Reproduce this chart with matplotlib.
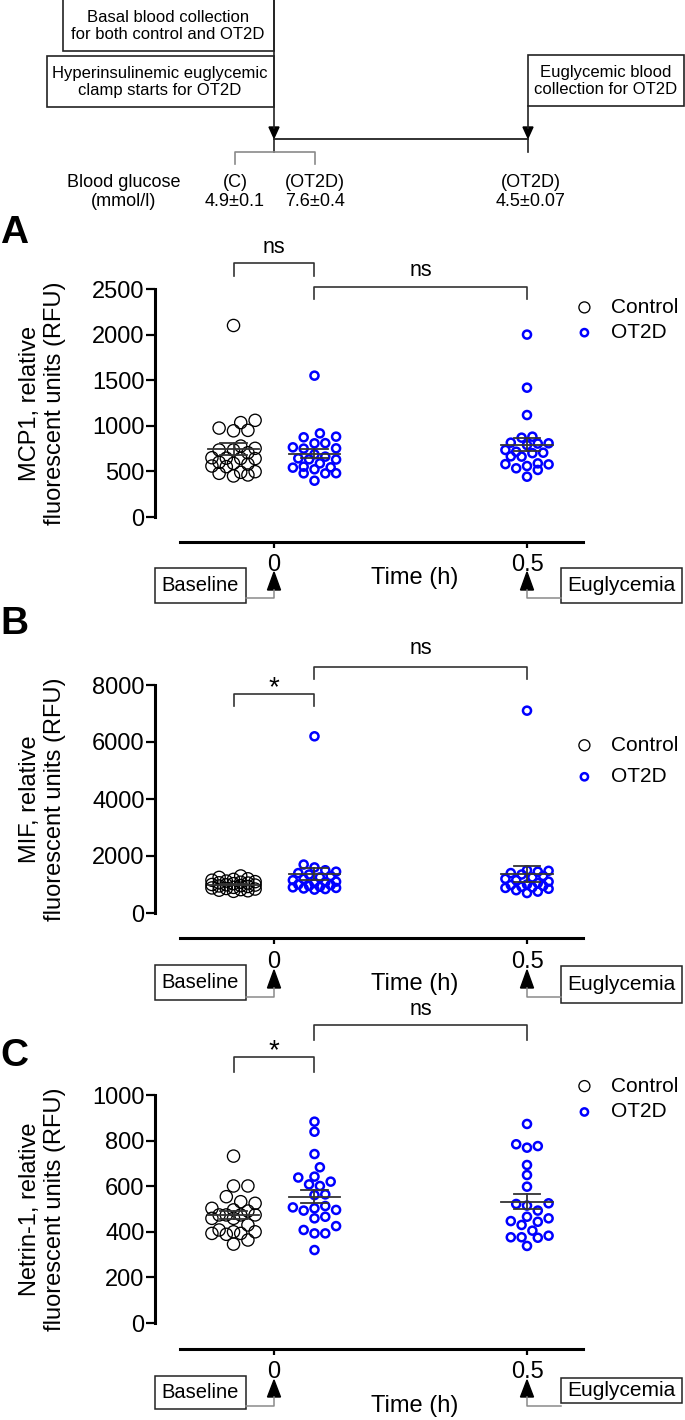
import numpy as np
import matplotlib.pyplot as plt
from matplotlib.patches import Rectangle, Polygon
from matplotlib.transforms import blended_transform_factory

plt.rcParams['font.family'] = ['Liberation Sans', 'DejaVu Sans']

W, H = 685, 1420

# group order: control at baseline, OT2D at baseline, OT2D at euglycemia
group_labels = ['Control', 'OT2D', 'OT2D']
group_times = [0.0, 0.0, 0.5]
time_ticks = [0, 0.5]
time_ticklabels = ['0', '0.5']

# MCP1 (RFU)
mcp1_ctrl = [2100, 1060, 1035, 975, 945, 950, 778, 753, 735, 705, 735, 643, 650, 640, 645,
             588, 559, 552, 580, 600, 479, 497, 450, 490, 461]
mcp1_ot2d_0 = [1550, 917, 881, 874, 808, 810, 753, 750, 764, 687, 632, 588, 630, 643, 662,
               523, 541, 552, 545, 479, 480, 478, 398]
mcp1_ot2d_05 = [2000, 1418, 1118, 870, 881, 815, 789, 808, 805, 735, 705, 700, 662, 665, 716,
                559, 588, 534, 516, 577, 580, 442]

# MIF (RFU)
mif_ctrl = [1300, 1250, 1200, 1180, 1150, 1120, 1100, 1080, 1060, 1050, 1030, 1000, 990,
            980, 960, 950, 930, 900, 880, 860, 840, 820, 800, 780, 760]
mif_ot2d_0 = [6200, 1700, 1600, 1500, 1450, 1400, 1350, 1300, 1250, 1200, 1150, 1100, 1080,
              1050, 1000, 980, 950, 920, 900, 880, 860, 840, 820]
mif_ot2d_05 = [7100, 1500, 1480, 1450, 1400, 1350, 1300, 1250, 1200, 1150, 1100, 1050, 1000,
               980, 950, 920, 900, 880, 850, 800, 750, 700]

# Netrin-1 (RFU)
netrin_ctrl = [732, 601, 601, 554, 525, 532, 496, 503, 491, 474, 474, 474, 474, 459, 459,
               430, 408, 393, 389, 393, 400, 400, 364, 346]
netrin_ot2d_0 = [883, 839, 741, 683, 642, 638, 620, 601, 608, 564, 561, 507, 513, 493, 503,
                 496, 459, 466, 425, 408, 393, 393, 320]
netrin_ot2d_05 = [873, 784, 776, 769, 693, 649, 598, 522, 515, 525, 493, 466, 459, 447, 444,
                  430, 405, 374, 383, 376, 376, 338]

panels = [
    dict(letter='A', ylabel='MCP1, relative\nfluorescent units (RFU)',
         data=[mcp1_ctrl, mcp1_ot2d_0, mcp1_ot2d_05], ymax=2500, ystep=500,
         top=289, bottom=517, line=542, tlabel=567, letter_y=233,
         sig=[('ns', 1.184, 1.114, 1.057), ('ns', 1.079, 1.009, 0.956)],
         leg_y=320, leg_sp=0.3,
         base_box=(568, 603), eug_box=(568, 603), tri=(572, 590), conn=598),
    dict(letter='B', ylabel='MIF, relative\nfluorescent units (RFU)',
         data=[mif_ctrl, mif_ot2d_0, mif_ot2d_05], ymax=8000, ystep=2000,
         top=685, bottom=913, line=938, tlabel=973, letter_y=624,
         sig=[('*', 0.988, 0.961, 0.908), ('ns', 1.162, 1.079, 1.026)],
         leg_y=761, leg_sp=0.6,
         base_box=(965, 1000), eug_box=(966, 1003), tri=(970, 988), conn=997),
    dict(letter='C', ylabel='Netrin-1, relative\nfluorescent units (RFU)',
         data=[netrin_ctrl, netrin_ot2d_0, netrin_ot2d_05], ymax=1000, ystep=200,
         top=1095, bottom=1323, line=1349, tlabel=1395, letter_y=1056,
         sig=[('*', 1.193, 1.167, 1.101), ('ns', 1.373, 1.307, 1.241)],
         leg_y=1099, leg_sp=0.33,
         base_box=(1376, 1409), eug_box=(1378, 1403), tri=(1380, 1397), conn=1406),
]

AX_L, AX_R = 155, 600
T0_PX, PX_PER_H = 274, 506
XLIM = ((AX_L - T0_PX) / PX_PER_H, (AX_R - T0_PX) / PX_PER_H)
offsets = [-0.08, 0.08, 0.0]


def fig_rect(x0, y_top, x1, y_bot):
    return [x0 / W, 1 - y_bot / H, (x1 - x0) / W, (y_bot - y_top) / H]


def swarm(ax, center, vals, diam, step, max_k):
    vals = np.asarray(vals, float)
    py = ax.transData.transform(np.column_stack([np.full(len(vals), center), vals]))[:, 1]
    cx = ax.transData.transform((center, 0))[0]
    ks = [0]
    for k in range(1, max_k + 1):
        ks += [k, -k]
    placed = []
    xs = np.zeros(len(vals))
    for i in np.argsort(vals):
        best, best_d = 0, -1
        for k in ks:
            x = cx + k * step
            d = min([np.hypot(x - qx, py[i] - qy) for qx, qy in placed], default=np.inf)
            if d >= diam:
                best = k
                break
            if d > best_d:
                best, best_d = k, d
        xs[i] = cx + best * step
        placed.append((xs[i], py[i]))
    return ax.transData.inverted().transform(np.column_stack([xs, py]))[:, 0]


fig = plt.figure(figsize=(W / 100, H / 100), dpi=100)
ov = fig.add_axes([0, 0, 1, 1], zorder=5)
ov.set_xlim(0, W)
ov.set_ylim(H, 0)
ov.axis('off')

dark = '#222222'
grey = '#8a8a8a'


def box(x0, y0, x1, y1, lw=1.2):
    ov.add_patch(Rectangle((x0, y0), x1 - x0, y1 - y0, fill=False, lw=lw, ec=dark))


def tri(x, tip, base, w=6.5):
    ov.add_patch(Polygon([(x - w, base), (x + w, base), (x, tip)], closed=True, color='black'))


# ---- top timeline diagram ----
box(63, -2, 274, 51)
ov.text(168, 26, 'Basal blood collection\nfor both control and OT2D', ha='center', va='center',
        fontsize=12, linespacing=1.2)
box(47, 56, 274, 107)
ov.text(160, 82, 'Hyperinsulinemic euglycemic\nclamp starts for OT2D', ha='center', va='center',
        fontsize=12, linespacing=1.2)
box(528, 55, 684, 106)
ov.text(606, 81, 'Euglycemic blood\ncollection for OT2D', ha='center', va='center',
        fontsize=12, linespacing=1.2)
ov.plot([274, 274], [0, 128], color=dark, lw=1.2)
ov.plot([528, 528], [106, 128], color=dark, lw=1.2)
tri(274, 138, 127, w=5)
tri(528, 138, 127, w=5)
ov.plot([274, 528], [139, 139], color=dark, lw=1.3)
ov.plot([274, 274], [139, 152], color=dark, lw=1.2)
ov.plot([528, 528], [139, 152], color=dark, lw=1.2)
ov.plot([235, 235, 315, 315], [164, 152, 152, 164], color=grey, lw=1.2)
ov.text(124, 192, 'Blood glucose\n(mmol/l)', ha='center', va='center', fontsize=13, linespacing=1.2)
ov.text(235, 192, '(C)\n4.9±0.1', ha='center', va='center', fontsize=13, linespacing=1.2)
ov.text(315, 192, '(OT2D)\n7.6±0.4', ha='center', va='center', fontsize=13, linespacing=1.2)
ov.text(531, 192, '(OT2D)\n4.5±0.07', ha='center', va='center', fontsize=13, linespacing=1.2)

for p in panels:
    ax = fig.add_axes(fig_rect(AX_L, p['top'], AX_R, p['bottom']))
    ax.set_xlim(*XLIM)
    ax.set_ylim(0, p['ymax'])
    ax.set_yticks(np.arange(0, p['ymax'] + 1, p['ystep']))
    ax.set_xticks([])
    for s in ['top', 'right', 'bottom']:
        ax.spines[s].set_visible(False)
    ax.spines['left'].set_linewidth(2.2)
    ax.tick_params(axis='y', length=6.5, width=1.6, pad=1, labelsize=17)
    ax.patch.set_alpha(0)
    ax.set_ylabel(p['ylabel'], fontsize=17, linespacing=1.2)
    ax.yaxis.set_label_coords(66 / W, 0.5, transform=blended_transform_factory(fig.transFigure, ax.transAxes))

    handles = []
    for gi, vals in enumerate(p['data']):
        c = group_times[gi] + offsets[gi]
        if gi == 0:
            xs = swarm(ax, c, vals, diam=12.0, step=7.2, max_k=3)
            h = ax.scatter(xs, vals, s=8.8 ** 2, facecolors='none', edgecolors='black',
                           linewidths=0.95, clip_on=False, zorder=3, label=group_labels[gi])
        else:
            xs = swarm(ax, c, vals, diam=10.0, step=5.4, max_k=4)
            h = ax.scatter(xs, vals, s=5.8 ** 2, facecolors='none', edgecolors='#0000ff',
                           linewidths=1.8, clip_on=False, zorder=3, label=group_labels[gi])
        if gi < 2:
            handles.append(h)
        v = np.asarray(vals, float)
        m = v.mean()
        se = v.std(ddof=1) / np.sqrt(len(v))
        ax.plot([c - 0.051, c + 0.051], [m, m], color='#333333', lw=1.3, zorder=4, clip_on=False)
        ax.plot([c - 0.026, c + 0.026], [m + se] * 2, color='#333333', lw=1.3, zorder=4)
        ax.plot([c - 0.026, c + 0.026], [m - se] * 2, color='#333333', lw=1.3, zorder=4)
        ax.plot([c, c], [m - se, m + se], color='#333333', lw=1.3, zorder=4)

    # significance brackets
    xtr = ax.get_xaxis_transform()
    c0, c1, c2 = [group_times[i] + offsets[i] for i in range(3)]
    for (lab, ty, top, end), (xa, xb) in zip(p['sig'], [(c0, c1), (c1, c2)]):
        ax.plot([xa, xa, xb, xb], [end, top, top, end], color='#333333', lw=1.2,
                transform=xtr, clip_on=False)
        ax.text((xa + xb) / 2, ty, lab, transform=xtr, ha='center', va='center',
                fontsize=20 if lab == '*' else 15.5)

    ax.legend(handles=handles, loc='center left', frameon=False, fontsize=15,
              bbox_to_anchor=(574 / W, 1 - p['leg_y'] / H), bbox_transform=fig.transFigure,
              borderpad=0, borderaxespad=0, handlelength=1.0, handletextpad=0.8,
              labelspacing=p['leg_sp'], markerscale=0.9)

    # time axis
    tax = fig.add_axes(fig_rect(AX_L, p['line'] - 10, AX_R, p['line']))
    tax.set_xlim(*XLIM)
    tax.patch.set_alpha(0)
    tax.set_yticks([])
    for s in ['top', 'right', 'left']:
        tax.spines[s].set_visible(False)
    tax.spines['bottom'].set_linewidth(2.2)
    tax.spines['bottom'].set_bounds((180 - T0_PX) / PX_PER_H, (583 - T0_PX) / PX_PER_H)
    tax.set_xticks(time_ticks)
    tax.set_xticklabels(time_ticklabels)
    tax.tick_params(axis='x', length=4, width=1.6, pad=5, labelsize=17)
    tax.set_xlabel('Time (h)', fontsize=17)
    tax.xaxis.set_label_coords(415 / W, 1 - p['tlabel'] / H, transform=fig.transFigure)

    # panel letter
    ov.text(0, p['letter_y'], p['letter'], ha='left', va='center', fontsize=28, fontweight='bold')

    # baseline / euglycemia boxes with arrows
    x0 = tax.transData.transform((time_ticks[0], 0))[0]
    x5 = tax.transData.transform((time_ticks[1], 0))[0]
    bt, bb = p['base_box']
    et, eb = p['eug_box']
    tip, base = p['tri']
    box(155, bt, 246, bb, lw=1.1)
    ov.text(200.5, (bt + bb) / 2, 'Baseline', ha='center', va='center', fontsize=14.5)
    box(561, et, 682, eb, lw=1.1)
    ov.text(621.5, (et + eb) / 2, 'Euglycemia', ha='center', va='center', fontsize=15)
    tri(x0, tip, base)
    tri(x5, tip, base)
    ov.plot([x0, x0, 246], [base, p['conn'], p['conn']], color=grey, lw=1.1)
    ov.plot([x5, x5, 561], [base, p['conn'], p['conn']], color=grey, lw=1.1)

fig.savefig('out.png', dpi=100)
